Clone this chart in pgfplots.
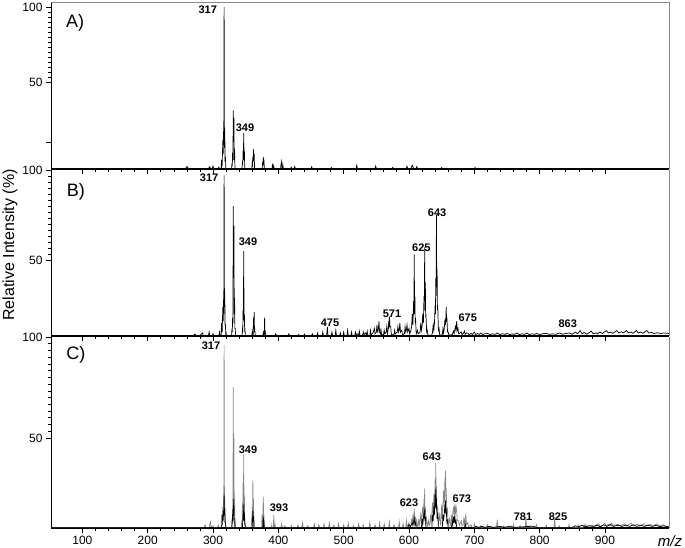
\documentclass[border=0pt]{standalone}
\usepackage{pgfplots}
\pgfplotsset{compat=1.18}
\usepackage{fontspec}
\setmainfont{Liberation Sans}
\definecolor{frame}{HTML}{8A8A8A}
\definecolor{grayspec}{HTML}{858585}
\pgfplotsset{
  ms/.style={
    scale only axis, width=618pt,
    xmin=52, xmax=998,
    axis x line*=bottom, axis y line*=left,
    x axis line style={-, line width=1.3pt},
    y axis line style={-, line width=0.9pt},
    tick align=outside,
    xtick={100,200,...,900}, minor x tick num=4,
    ytick={50,100}, minor y tick num=14,
    major tick length=5pt, minor tick length=3pt,
    tick style={black, line width=0.6pt},
    tick label style={font=\fontsize{12}{14}\selectfont},
    /pgf/number format/assume math mode=true,
  },
  spec/.style={black, line width=0.7pt},
}
\tikzset{
  lab/.style={font=\fontsize{11}{13}\selectfont\bfseries, inner sep=0pt},
  plab/.style={font=\fontsize{18}{20}\selectfont, inner sep=0pt},
}
\begin{document}
\begin{tikzpicture}
\path[use as bounding box] (0pt,0pt) rectangle (685pt,-548pt);
% ---------------- Panel A
\begin{axis}[ms, height=167pt, at={(51pt,-169pt)}, anchor=south west,
  ymin=-8, ymax=103.3, xticklabels={}, extra y ticks={10}, extra y tick labels={},
  after end axis/.code={\draw[frame, line width=0.9pt] (rel axis cs:0,1) -- (rel axis cs:1,1) -- (rel axis cs:1,0);}]
\addplot[spec] table[row sep=\\] {
52 -7.6\\ 258 -7.6\\ 260 -6.3\\ 262 -7.6\\
293 -7.6\\ 295 -6.5\\ 296 -7.6\\ 299 -7.6\\ 300 -6\\ 301 -7.6\\
308 -7.6\\ 309 -6.8\\ 310 -7.6\\ 312.4 -7.6\\ 313 -2\\ 313.6 -6\\ 314 -5\\ 315 11\\ 315.5 2\\ 316 17\\ 316.5 8\\ 317 100\\ 317.5 6\\ 318 18\\ 318.5 -3\\ 319 0\\ 319.6 -7.6\\
328.4 -7.6\\ 329 -4\\ 329.5 -6\\ 330 3\\ 330.5 -2\\ 331 31\\ 331.5 10\\ 332 26\\ 332.5 -2\\ 333 5\\ 333.6 -7.6\\
344.4 -7.6\\ 345 -3\\ 345.5 -5\\ 346 4\\ 346.5 -2\\ 347 16\\ 347.5 -1\\ 348 4\\ 348.6 -7.6\\
359.4 -7.6\\ 360 -4\\ 360.5 -5\\ 361 0\\ 361.5 -3\\ 362 5\\ 362.5 -2\\ 363 2\\ 363.6 -7.6\\
375.4 -7.6\\ 376 -3\\ 376.5 -5\\ 377 0\\ 377.5 -4\\ 378 -3\\ 378.6 -7.6\\
390.4 -7.6\\ 391 -4.5\\ 391.6 -7.6\\ 392.4 -7.6\\ 393 -6\\ 393.6 -7.6\\
403.4 -7.6\\ 404 -5\\ 405 -3\\ 405.6 -7.6\\ 406.4 -7.6\\ 407 -5.5\\ 407.6 -7.6\\
419 -7.6\\ 420 -6.8\\ 421 -7.6\\ 424 -7.6\\ 425 -6.3\\ 426 -7.6\\
450 -7.6\\ 451 -6.5\\ 452 -7.6\\ 480 -7.6\\ 481 -7\\ 482 -7.6\\
519 -7.6\\ 520 -5.5\\ 521 -7.6\\ 548 -7.6\\ 549 -6\\ 550 -7.6\\
574 -7.6\\ 575 -7\\ 576 -7.6\\ 596 -7.6\\ 597 -6.2\\ 598 -7.6\\ 603 -7.6\\ 605 -5.5\\ 607 -7.6\\ 611 -7.6\\ 612 -6.3\\ 613 -7.6\\
649 -7.6\\ 650 -7\\ 651 -7.6\\ 700 -7.6\\ 701 -7.1\\ 702 -7.6\\ 998 -7.6\\
};
\node[plab] at (axis cs:89,89.3) {A)};
\node[lab] at (axis cs:292,98) {317};
\node[lab] at (axis cs:349,19.3) {349};
\end{axis}
% ---------------- Panel B
\begin{axis}[ms, height=166pt, at={(51pt,-336pt)}, anchor=south west,
  ymin=7.8, ymax=100, xticklabels={},
  after end axis/.code={\draw[frame, line width=0.9pt] (rel axis cs:1,1) -- (rel axis cs:1,0);}]
\addplot[spec] table[row sep=\\] {
52 8.1\\ 270 8.1\\ 272 8.8\\ 274 8.1\\ 280 8.1\\ 284 9.5\\ 285 8.1\\ 293 8.1\\ 294 10\\ 295 8.1\\ 299 8.1\\ 300 9\\ 301 8.1\\
309 8.1\\ 310 10\\ 311 8.1\\ 312.4 8.1\\ 313 15\\ 314 10\\ 315 24\\ 315.5 16\\ 316 28\\ 316.5 20\\ 317 97\\ 317.5 24\\ 318 32\\ 318.5 14\\ 319 14\\ 319.6 8.1\\ 320 10\\ 320.6 8.1\\
328.4 8.1\\ 329 12\\ 329.5 10\\ 330 18\\ 330.5 15\\ 331 80\\ 331.5 40\\ 332 69\\ 332.5 20\\ 333 29\\ 333.5 12\\ 334 12\\ 334.6 8.1\\
344.4 8.1\\ 345 11\\ 345.5 10\\ 346 22\\ 346.5 16\\ 347 55\\ 347.5 18\\ 348 20\\ 348.5 10\\ 349 11\\ 349.6 8.1\\
359.4 8.1\\ 360 10\\ 360.6 8.1\\ 361.4 8.1\\ 362 18\\ 362.5 12\\ 363 21\\ 363.5 10\\ 364 11\\ 364.6 8.1\\
376.4 8.1\\ 377 9.5\\ 377.6 8.1\\ 378.4 8.1\\ 379 18\\ 379.5 9\\ 380 10\\ 380.6 8.1\\
395 8.1\\ 396 9\\ 397 8.1\\ 415 8.1\\ 416 9\\ 417 8.1\\ 430 8.1\\ 431 8.7\\ 432 8.1\\
439 8.1\\ 440 8.8\\ 441 8.1\\ 451 8.1\\ 452 9\\ 453 8.1\\ 459 8.1\\ 460 9.5\\ 461 8.1\\ 467 8.1\\ 468 10\\ 469 8.1\\
474 8.1\\ 475 13\\ 476 8.1\\ 481 8.1\\ 482 10\\ 483 8.1\\ 487 8.1\\ 488 11\\ 489 8.1\\ 494 8.1\\ 495 9.5\\ 496 8.1\\
499 8.1\\ 500 10\\ 501 8.1\\ 505 8.1\\ 506 11\\ 507 8.1\\ 511 8.1\\ 512 10\\ 513 8.1\\ 517 8.1\\ 518 10\\ 519 8.5\\ 521 9\\ 523 8.5\\ 524 10.5\\ 525 8.1\\
529 8.1\\ 530 10\\ 531 8.5\\ 533 9.5\\ 535 8.5\\ 536 10.5\\ 537 8.1\\ 540 8.1\\ 541 11\\ 542 8.5\\ 545 9.5\\ 547 12\\ 548 9\\ 550 10\\ 551 14\\ 552 10\\ 553 11\\ 554 16\\ 555 10\\ 556.5 9\\ 557 12\\ 558 8.5\\
561 8.5\\ 562 11\\ 563 9\\ 565 10\\ 566 13\\ 567 9\\ 568 11\\ 569 16\\ 569.5 12\\ 570 18.5\\ 571 13\\ 572 13\\ 573 8.5\\
577 8.5\\ 578 11\\ 579 9\\ 582 10\\ 583 13\\ 584 10\\ 585 11\\ 586 15\\ 587 10\\ 589 11\\ 590 8.5\\
593 9\\ 594 13\\ 595 10\\ 596 11\\ 597 14\\ 598 10\\ 600 12\\ 601 9\\ 603 11\\ 604 13\\ 605 20\\ 606 14\\ 607 27\\ 607.5 20\\ 608 53\\ 608.5 25\\ 609 30\\ 609.5 15\\ 610 18\\ 611 9\\
613 11\\ 614 9\\ 617 10\\ 618 15\\ 619 11\\ 620 13\\ 621 20\\ 622 15\\ 623 30\\ 623.5 22\\ 624 57\\ 624.5 28\\ 625 38\\ 625.5 18\\ 626 20\\ 627 10\\ 628 11\\ 629 8.3\\
635 8.3\\ 636 10\\ 637 14\\ 638 11\\ 639 15\\ 640 25\\ 640.5 20\\ 641 40\\ 641.5 30\\ 642 75\\ 642.5 35\\ 643 45\\ 643.5 22\\ 644 25\\ 645 11\\ 646 12\\ 647 8.3\\
651 8.5\\ 652 12\\ 653 9.5\\ 654 12\\ 655 17\\ 656 14\\ 657 24\\ 657.5 16\\ 658 18\\ 659 10\\ 660 10\\ 661 8.3\\
666 8.5\\ 667 9.5\\ 668 10.5\\ 669 9\\ 670 11\\ 671 13\\ 672 11\\ 673 16\\ 674 11\\ 675 12\\ 676 9\\ 678 9.5\\ 680 10\\ 681 8.5\\ 683 9.2\\ 685 10.5\\ 686 8.6\\ 688 9.5\\ 690 9.5\\ 692 8.5\\ 695 9.3\\ 697 8.6\\ 700 10\\ 702 8.6\\ 705 9.2\\ 708 8.7\\ 710 9.5\\ 713 8.6\\ 716 9\\ 720 9.2\\ 724 8.6\\ 728 9\\ 732 8.7\\ 735 9.5\\ 739 8.6\\ 743 9.1\\ 747 8.7\\ 750 9.3\\ 754 8.6\\ 758 9\\ 762 8.7\\ 765 9.5\\ 769 8.6\\ 773 9\\ 777 8.7\\ 780 9.5\\ 784 8.6\\ 788 9\\ 792 8.7\\ 795 9.2\\ 800 8.6\\ 805 9.1\\ 810 9.3\\ 815 8.7\\ 820 9\\ 825 8.7\\ 830 9.5\\ 835 8.8\\ 840 9.2\\ 845 9.5\\ 850 8.8\\ 855 10\\ 858 9\\ 862 10.8\\ 865 9\\ 868 9.8\\ 872 8.8\\ 875 9.5\\ 879 10.5\\ 882 9\\ 886 9.5\\ 889 9\\ 892 10\\ 896 9.2\\ 899 10\\ 902 10.8\\ 905 9.5\\ 909 10\\ 912 9.3\\ 915 10\\ 918 10.8\\ 921 9.5\\ 925 10.2\\ 928 9.5\\ 933 10.8\\ 936 9.5\\ 940 10\\ 943 9.3\\ 948 10.8\\ 951 9.5\\ 955 10\\ 958 9.3\\ 964 10.8\\ 967 9.5\\ 971 9.8\\ 975 9.2\\ 980 9.6\\ 985 9.2\\ 990 9.5\\ 998 9.2\\
};
\node[plab] at (axis cs:90,87.8) {B)};
\node[lab] at (axis cs:294,95.6) {317};
\node[lab] at (axis cs:353.5,60) {349};
\node[lab] at (axis cs:479,15) {475};
\node[lab] at (axis cs:574,20) {571};
\node[lab] at (axis cs:619,57) {625};
\node[lab] at (axis cs:643,76) {643};
\node[lab] at (axis cs:690,18) {675};
\node[lab] at (axis cs:843,14.5) {863};
\end{axis}
% ---------------- Panel C
\begin{axis}[ms, height=191pt, at={(51pt,-528pt)}, anchor=south west,
  ymin=5.4, ymax=100,
  after end axis/.code={\draw[frame, line width=0.9pt] (rel axis cs:1,1) -- (rel axis cs:1,0);}]
\addplot[grayspec, line width=0.7pt] table[row sep=\\] {
52 5.7\\ 286 5.7\\ 288 7\\ 289 5.7\\ 294 5.7\\ 296 8.5\\ 297 6\\ 300 6.5\\ 301 5.7\\ 307 5.7\\ 308 7\\ 309 5.7\\
312.4 5.7\\ 313 12\\ 313.5 7\\ 314 9\\ 315 16\\ 315.5 10\\ 316 19\\ 316.5 12\\ 317 96\\ 317.5 14\\ 318 20\\ 318.5 8\\ 319 9\\ 319.6 5.7\\
328.4 5.7\\ 329 10\\ 329.5 8\\ 330 15\\ 330.5 12\\ 331 75\\ 331.5 20\\ 332 50\\ 332.5 12\\ 333 20\\ 333.5 8\\ 334 9\\ 334.6 5.7\\
343.4 5.7\\ 344 9\\ 344.5 7\\ 345 18\\ 345.5 10\\ 346 28\\ 346.5 15\\ 347 42\\ 347.5 14\\ 348 22\\ 348.5 8\\ 349 9\\ 349.6 5.7\\
358.4 5.7\\ 359 10\\ 359.5 7\\ 360 16\\ 360.5 10\\ 361 29\\ 361.5 12\\ 362 20\\ 362.5 8\\ 363 9\\ 363.6 5.7\\
374.4 5.7\\ 375 12\\ 375.5 7\\ 376 8\\ 377 21\\ 377.5 9\\ 378 12\\ 378.6 5.7\\
389.4 5.7\\ 390 7\\ 390.6 5.7\\ 392.4 5.7\\ 393 12\\ 393.6 5.7\\ 394.4 5.7\\ 395 7\\ 395.6 5.7\\
404 5.7\\ 405 7.5\\ 406 5.7\\ 409 5.7\\ 410 6.5\\ 411 5.7\\ 419 5.7\\ 420 6.5\\ 421 5.7\\ 429 5.7\\ 430 7\\ 431 5.7\\ 436 5.7\\ 437 8\\ 438 5.7\\ 444 5.7\\ 445 6.5\\ 446 5.7\\ 454 5.7\\ 455 7.5\\ 456 5.7\\ 461 5.7\\ 462 7\\ 463 5.7\\ 469 5.7\\ 470 7.5\\ 471 5.7\\ 477 5.7\\ 478 8\\ 479 5.7\\ 484 5.7\\ 485 6.8\\ 486 5.7\\ 491 5.7\\ 492 7.5\\ 493 5.7\\ 499 5.7\\ 500 7\\ 501 5.7\\ 506 5.7\\ 507 7.8\\ 508 5.7\\ 514 5.7\\ 515 6.5\\ 516 5.7\\ 522 5.7\\ 523 7.5\\ 524 5.7\\ 529 5.7\\ 530 7\\ 531 5.7\\ 539 5.7\\ 540 8\\ 541 5.7\\ 547 5.7\\ 548 7\\ 549 5.7\\ 554 5.7\\ 555 8\\ 556 5.7\\ 561 5.7\\ 562 7.5\\ 563 5.7\\ 569 5.7\\ 570 8.5\\ 571 5.7\\ 576 5.7\\ 577 7\\ 578 5.7\\ 584 5.7\\ 585 8.5\\ 586 5.7\\ 590 5.7\\ 591 7.5\\ 592 5.7\\ 595 5.7\\ 596 9\\ 597 6\\ 600 8\\ 601 6\\ 603 6.5\\ 604 10\\ 605 7\\ 606 12\\ 607 8\\ 608 15\\ 609 8\\ 610 11\\ 611 6.5\\ 612 9\\ 613 6\\
614 6.5\\ 615 10\\ 616 7\\ 618 12\\ 619 8\\ 621 16\\ 622 10\\ 623 20\\ 623.5 14\\ 624 25\\ 624.5 12\\ 625 16\\ 626 8\\ 627 10\\ 628 6\\ 630 9\\ 631 6.5\\
632 7\\ 633 12\\ 634 8\\ 636 18\\ 637 12\\ 638 22\\ 639 15\\ 640 30\\ 640.5 22\\ 641 37.6\\ 641.5 20\\ 642 26\\ 643 14\\ 644 15\\ 645 8\\ 647 12\\ 648 7\\
649 8\\ 650 17\\ 651 10\\ 653 24\\ 654 16\\ 655 30\\ 655.5 24\\ 656 33.7\\ 656.5 18\\ 657 25\\ 658 12\\ 659 14\\ 660 7\\ 662 10\\ 663 6.5\\
664 8\\ 665 12\\ 666 9\\ 668 16\\ 669 12\\ 670 17\\ 671 12\\ 672 16\\ 673 14\\ 674 9\\ 676 9\\ 677 6.5\\ 680 9\\ 681 6.5\\ 683 7\\ 684 10\\ 685 8\\ 687 12\\ 688 7\\ 690 8\\ 691 6\\ 695 7\\ 696 5.7\\ 699 5.7\\ 700 7.5\\ 701 5.7\\ 709 5.7\\ 710 6.5\\ 711 5.7\\ 719 5.7\\ 720 7\\ 721 5.7\\ 734 5.7\\ 735 9.5\\ 736 5.7\\ 744 5.7\\ 745 6.5\\ 746 5.7\\ 759 5.7\\ 760 7\\ 761 5.7\\ 769 5.7\\ 770 6.5\\ 771 5.7\\ 778 5.7\\ 779 10.5\\ 780 5.7\\ 784 5.7\\ 785 6.5\\ 786 5.7\\ 794 5.7\\ 795 7\\ 796 5.7\\ 809 5.7\\ 810 6.8\\ 811 5.7\\ 822 5.7\\ 823 10\\ 824 5.7\\ 829 5.7\\ 830 6.5\\ 831 5.7\\ 844 5.7\\ 845 7\\ 846 5.7\\ 859 5.7\\ 860 6.8\\ 861 5.7\\ 866 5.7\\ 870 7.3\\ 872 6\\ 876 6.5\\ 880 6.8\\ 884 6\\ 887 7\\ 890 7.5\\ 893 6.2\\ 897 7\\ 900 7.8\\ 902 6.3\\ 905 7.2\\ 908 6.5\\ 910 7.8\\ 913 6.3\\ 917 7\\ 920 7.2\\ 923 6.3\\ 927 7\\ 930 7.5\\ 933 6.3\\ 937 7.2\\ 940 7.8\\ 943 6.3\\ 947 7\\ 950 7.2\\ 953 6.3\\ 957 7\\ 960 7.5\\ 963 6.3\\ 967 7\\ 970 7.2\\ 973 6.3\\ 977 7\\ 980 7.5\\ 983 6.3\\ 987 6.8\\ 990 7\\ 993 6.2\\ 998 6\\
};
\addplot[spec] table[row sep=\\] {
52 5.7\\ 312 5.7\\ 314 7\\ 315 12\\ 315.5 9\\ 316 14\\ 316.5 11\\ 317 22\\ 317.5 12\\ 318 15\\ 318.5 8\\ 319 8\\ 319.6 5.7\\
329 5.7\\ 330 12\\ 330.5 9\\ 331 20\\ 331.5 12\\ 332 16\\ 332.5 8\\ 333 8\\ 333.6 5.7\\
345 5.7\\ 346 12\\ 346.5 9\\ 347 17\\ 347.5 10\\ 348 13\\ 348.5 7\\ 349 7\\ 349.6 5.7\\
360 5.7\\ 361 14\\ 361.5 9\\ 362 10\\ 362.6 5.7\\ 376 5.7\\ 377 11\\ 377.5 7\\ 378 8\\ 378.6 5.7\\
598 5.7\\ 600 7\\ 602 6\\ 605 8\\ 606 6.5\\ 608 10\\ 609 7\\ 610 8\\ 611 5.7\\
619 5.7\\ 620 10\\ 621 7\\ 623 13\\ 623.5 10\\ 624 15\\ 624.5 9\\ 625 11\\ 626 5.7\\
635 5.7\\ 636 12\\ 637 9\\ 638 16\\ 639 12\\ 640 22\\ 640.5 16\\ 641 24.7\\ 641.5 15\\ 642 20\\ 643 10\\ 644 12\\ 645 5.7\\
651 5.7\\ 652 12\\ 653 9\\ 655 17\\ 655.5 13\\ 656 19\\ 656.5 12\\ 657 15\\ 658 8\\ 659 9\\ 660 5.7\\
665 5.7\\ 666 9\\ 667 7\\ 668 11\\ 669 8\\ 670 12\\ 671 8\\ 672 9\\ 673 5.7\\ 685 5.7\\ 686 8\\ 687 5.7\\
700 5.7\\ 703 6.3\\ 706 5.7\\ 712 6.2\\ 716 5.7\\ 724 6.3\\ 728 5.7\\ 740 6.2\\ 745 5.7\\ 755 6.3\\ 760 5.7\\ 790 6.3\\ 795 5.7\\ 850 5.7\\ 855 6.5\\ 860 6\\ 865 6.8\\ 870 6\\ 875 6.5\\ 882 6.2\\ 888 6.8\\ 893 6\\ 898 7\\ 903 6.2\\ 908 7.2\\ 913 6.2\\ 920 6.8\\ 926 6.2\\ 932 6.8\\ 938 6.2\\ 943 7\\ 948 6.2\\ 955 6.8\\ 960 6.2\\ 966 6.8\\ 972 6.2\\ 978 6.7\\ 984 6.1\\ 990 6.5\\ 998 5.9\\
};
\node[plab] at (axis cs:90,91) {C)};
\node[lab] at (axis cs:297,95.5) {317};
\node[lab] at (axis cs:353.5,44) {349};
\node[lab] at (axis cs:401,15.3) {393};
\node[lab] at (axis cs:600,17.8) {623};
\node[lab] at (axis cs:635,40.6) {643};
\node[lab] at (axis cs:681,19.8) {673};
\node[lab] at (axis cs:774.5,11) {781};
\node[lab] at (axis cs:828,11) {825};
\end{axis}
\node[rotate=90, font=\fontsize{16}{18}\selectfont, inner sep=0pt] at (10pt,-245pt) {Relative Intensity (\%)};
\node[font=\fontsize{15}{17}\selectfont\itshape, inner sep=0pt] at (670pt,-541pt) {m/z};
\end{tikzpicture}
\end{document}
